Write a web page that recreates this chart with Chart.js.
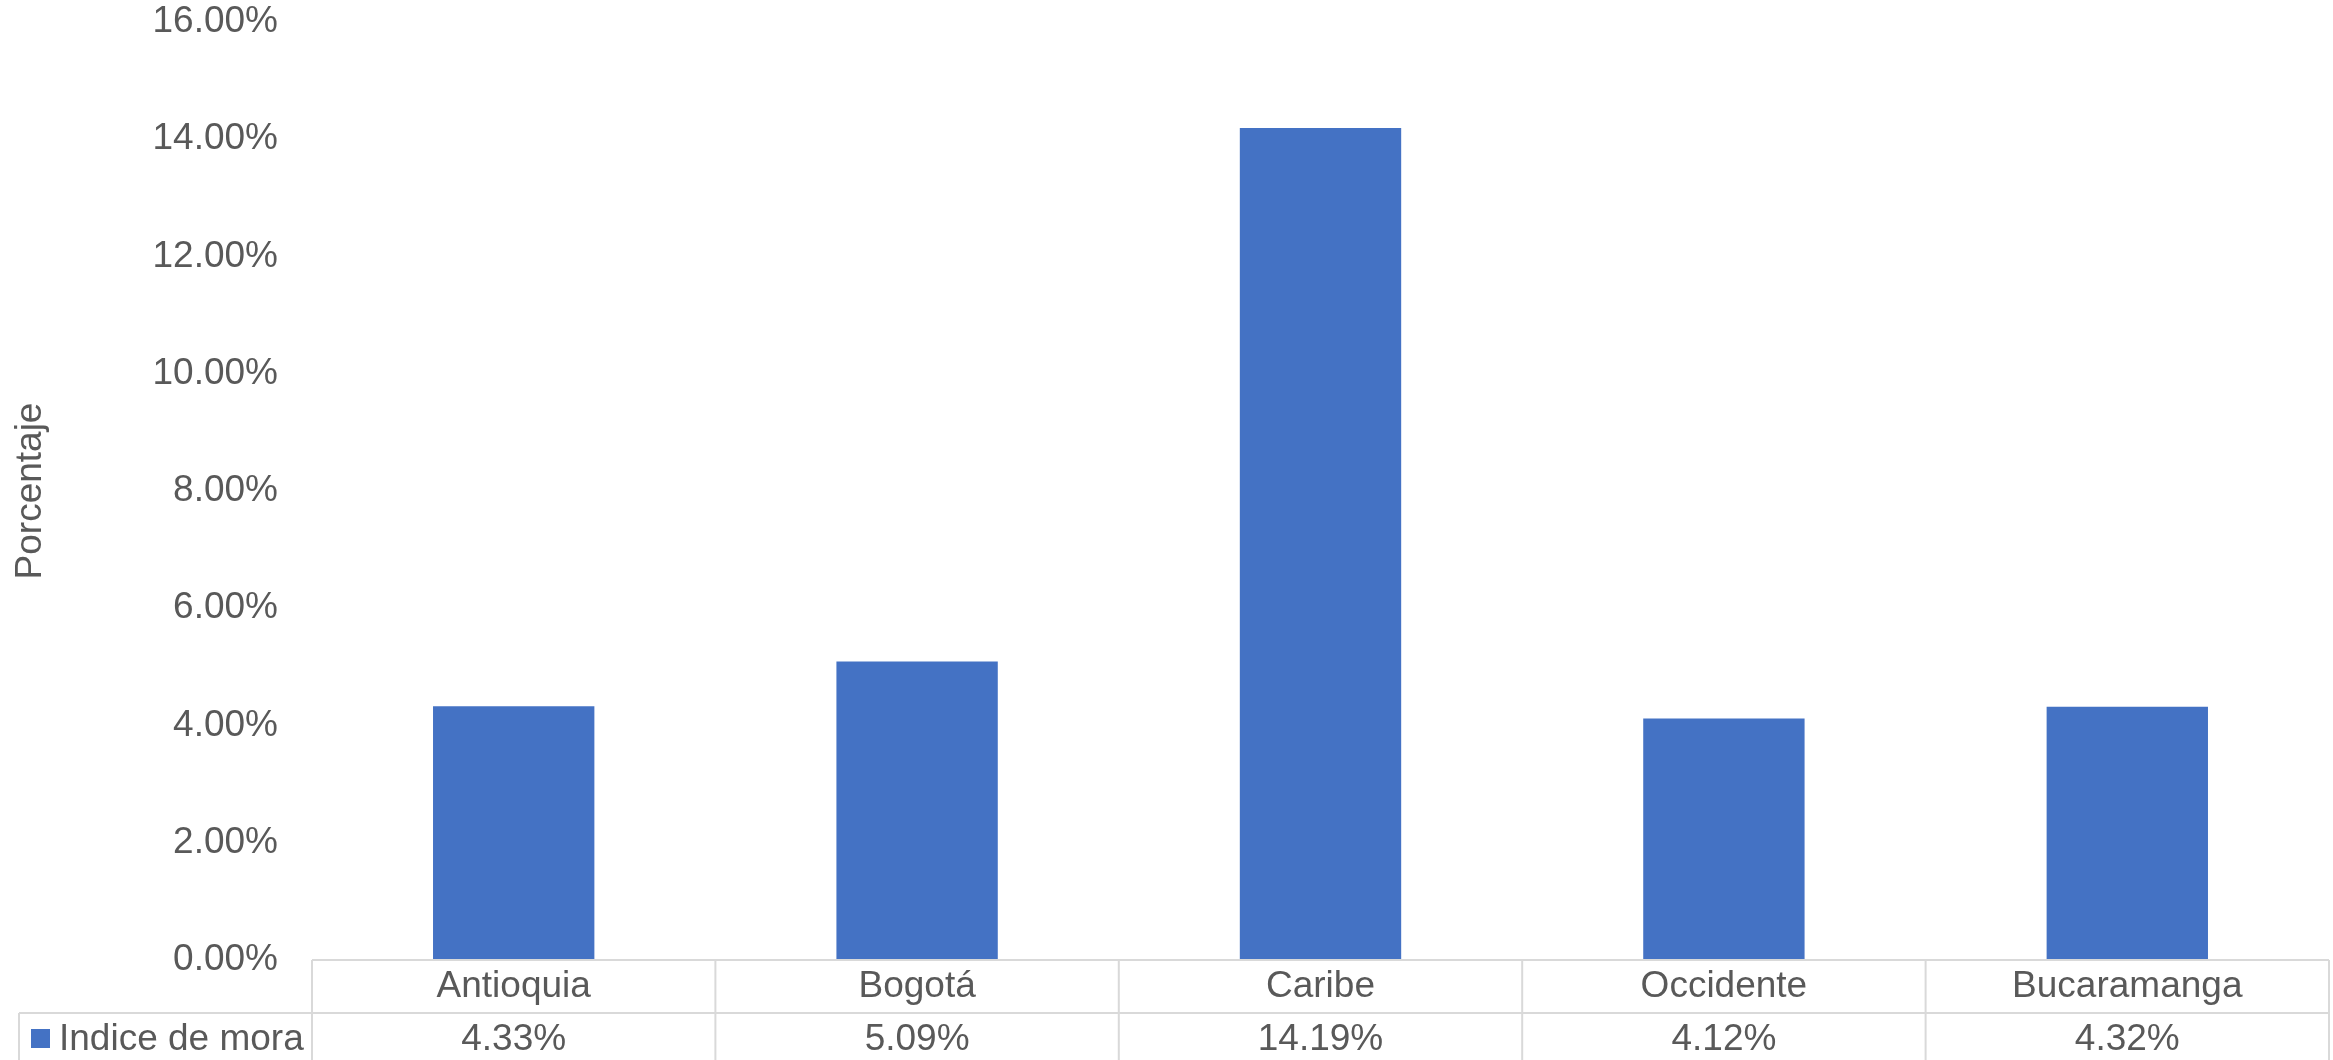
<!DOCTYPE html>
<html>
<head>
<meta charset="utf-8">
<script src="https://cdn.jsdelivr.net/npm/chart.js@4/dist/chart.umd.min.js"></script>
<style>
  html, body { margin: 0; padding: 0; background: #fff; }
  #wrap { width: 2333px; height: 1060px; }
</style>
</head>
<body>
<div id="wrap"><canvas id="grafico" width="2333" height="1060"></canvas></div>
<script>
// Datos de la gráfica
const categorias = ['Antioquia', 'Bogotá', 'Caribe', 'Occidente', 'Bucaramanga'];
const indiceMora = [4.33, 5.09, 14.19, 4.12, 4.32];
const nombreSerie = 'Indice de mora';
const ejeYMax = 16;
const ejeYPaso = 2;

const FUENTE = '"Liberation Sans", Arial, sans-serif';
const GRIS_TEXTO = '#595959';
const GRIS_LINEA = '#D9D9D9';
const AZUL = '#4472C4';

// Tabla de datos debajo de la gráfica (estilo Excel)
const tablaDatos = {
    id: 'tablaDatos',
    afterDraw(chart) {
        const ctx = chart.ctx;
        const area = chart.chartArea;
        const x = chart.scales.x;
        const filaAlto = 53;
        const y0 = area.bottom;
        const y1 = y0 + filaAlto;
        const y2 = y1 + filaAlto;
        const anchoCat = (area.right - area.left) / categorias.length;
        const legendaIzq = 19;

        ctx.save();
        ctx.strokeStyle = GRIS_LINEA;
        ctx.lineWidth = 2;
        ctx.beginPath();
        ctx.moveTo(area.left, y0); ctx.lineTo(area.right, y0);
        ctx.moveTo(legendaIzq, y1); ctx.lineTo(area.right, y1);
        ctx.moveTo(legendaIzq, y1); ctx.lineTo(legendaIzq, y2);
        for (let i = 0; i <= categorias.length; i++) {
            const bx = i < categorias.length ? x.getPixelForValue(i) - anchoCat / 2 : area.right;
            ctx.moveTo(bx, y0); ctx.lineTo(bx, y2);
        }
        ctx.stroke();

        ctx.fillStyle = GRIS_TEXTO;
        ctx.font = '37px ' + FUENTE;
        ctx.textAlign = 'center';
        ctx.textBaseline = 'middle';
        categorias.forEach((c, i) => {
            const cx = x.getPixelForValue(i);
            ctx.fillText(c, cx, y0 + filaAlto / 2);
            ctx.fillText(indiceMora[i].toFixed(2) + '%', cx, y1 + filaAlto / 2);
        });

        // clave de la leyenda
        ctx.fillStyle = AZUL;
        ctx.fillRect(31, y1 + 16, 19, 19);
        ctx.fillStyle = GRIS_TEXTO;
        ctx.textAlign = 'left';
        ctx.fillText(nombreSerie, 59, y1 + filaAlto / 2);
        ctx.restore();
    }
};

new Chart(document.getElementById('grafico'), {
    type: 'bar',
    data: {
        labels: categorias,
        datasets: [{
            label: nombreSerie,
            data: indiceMora,
            backgroundColor: AZUL,
            borderWidth: 0,
            categoryPercentage: 1,
            barPercentage: 0.4
        }]
    },
    options: {
        responsive: false,
        animation: false,
        devicePixelRatio: 1,
        layout: { padding: { top: 0, right: 4, bottom: 0, left: 0 } },
        plugins: {
            legend: { display: false },
            tooltip: { enabled: false }
        },
        scales: {
            y: {
                min: 0,
                max: ejeYMax,
                grid: { display: false, drawTicks: false },
                border: { display: false },
                ticks: {
                    stepSize: ejeYPaso,
                    padding: 34,
                    color: GRIS_TEXTO,
                    font: { family: FUENTE, size: 37 },
                    callback: v => v.toFixed(2) + '%'
                },
                title: {
                    display: true,
                    text: 'Porcentaje',
                    color: GRIS_TEXTO,
                    font: { family: FUENTE, size: 37 },
                    padding: { top: 9, bottom: 0 }
                },
                afterFit: s => {
                    s.width = 312;
                    s.paddingTop = 22;   // el 16.00% queda casi pegado arriba
                    s.paddingBottom = 0;
                }
            },
            x: {
                grid: { display: false, drawTicks: false },
                border: { display: false },
                ticks: { display: false },
                afterFit: s => { s.height = 100; }
            }
        }
    },
    plugins: [tablaDatos]
});
</script>
</body>
</html>
